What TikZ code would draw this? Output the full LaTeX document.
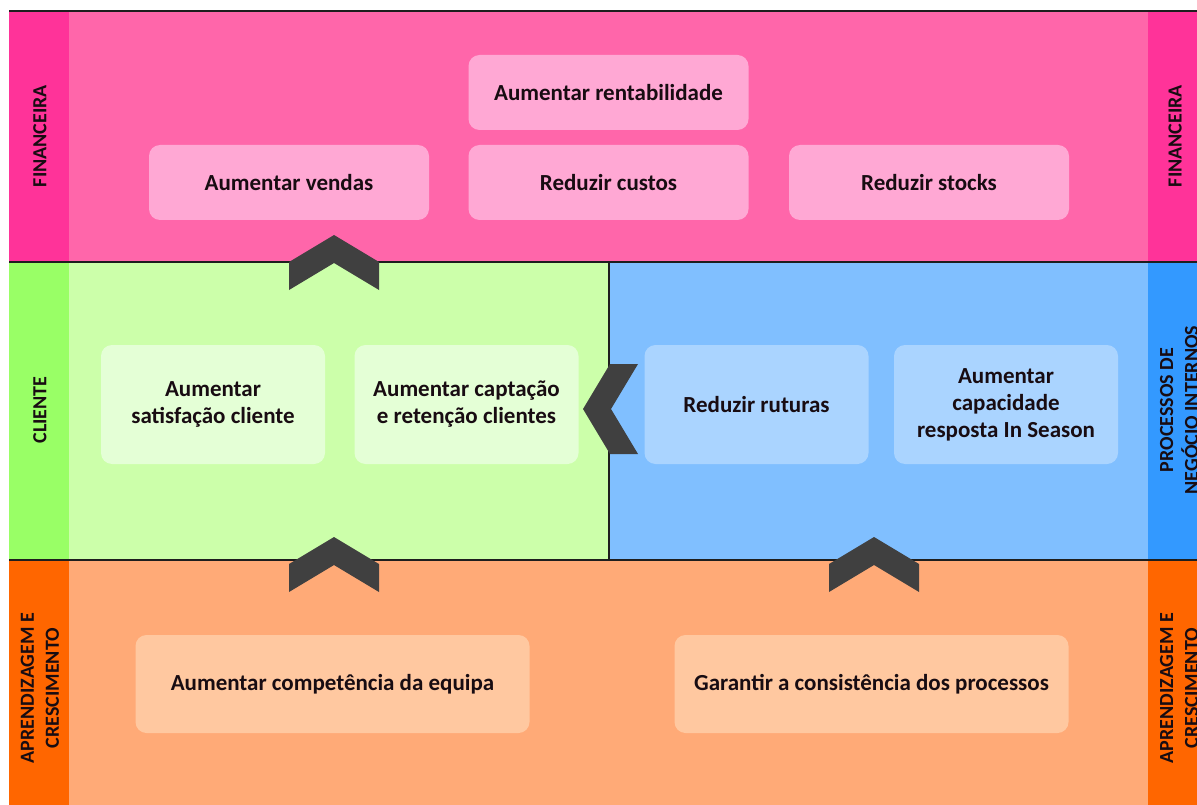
\documentclass[tikz,border=0pt]{standalone}
\usepackage{fontspec}
\setmainfont{Carlito}
\begin{document}
\begin{tikzpicture}[x=1pt,y=-1pt,
  every node/.style={font=\bfseries, text=txt},
  goal/.style={fill=#1, rounded corners=11pt, inner sep=0pt, align=center,
    font=\fontsize{23}{27}\selectfont\bfseries},
  topgoal/.style={goal=pinkbox, minimum width=280pt, minimum height=75pt},
  midgoal/.style={goal=#1, minimum width=224pt, minimum height=119pt},
  lowgoal/.style={goal=orangebox, minimum width=394pt, minimum height=98pt},
  sidelabel/.style={rotate=90, align=center, inner sep=0pt,
    font=\fontsize{20}{25}\selectfont\bfseries},
  rule/.style={draw=rulec, line width=1.4pt},
  chevron/.style={fill=chevc, draw=none}
]
\definecolor{txt}{HTML}{180C12}
\definecolor{rulec}{HTML}{1E1E1E}
\definecolor{chevc}{HTML}{404040}
\definecolor{pinkstrip}{HTML}{FF3399}
\definecolor{pinkband}{HTML}{FF66AA}
\definecolor{pinkbox}{HTML}{FFA8D4}
\definecolor{greenstrip}{HTML}{99FF66}
\definecolor{greenband}{HTML}{CCFFAA}
\definecolor{greenbox}{HTML}{E4FFD6}
\definecolor{bluestrip}{HTML}{3399FF}
\definecolor{blueband}{HTML}{80BFFF}
\definecolor{bluebox}{HTML}{AAD4FF}
\definecolor{orangestrip}{HTML}{FF6600}
\definecolor{orangeband}{HTML}{FFAA77}
\definecolor{orangebox}{HTML}{FFC8A0}

\useasboundingbox (0,0) rectangle (1197,805);
\clip (0,0) rectangle (1197,805);
\fill[white] (0,0) rectangle (1197,805);

% perspective bands
\fill[pinkband]   (9,11)  rectangle (1148,262);
\fill[greenband]  (69,262) rectangle (609,560);
\fill[blueband]   (609,262) rectangle (1148,560);
\fill[orangeband] (9,560) rectangle (1148,805);

% side strips
\fill[pinkstrip]   (9,11)   rectangle (69,262);
\fill[greenstrip]  (9,262)  rectangle (69,560);
\fill[orangestrip] (9,560)  rectangle (69,805);
\fill[pinkstrip]   (1148,11)  rectangle (1210,262);
\fill[bluestrip]   (1148,262) rectangle (1210,560);
\fill[orangestrip] (1148,560) rectangle (1210,805);

% separating rules
\draw[rule] (9,11) -- (1210,11);
\draw[rule] (9,262) -- (1210,262);
\draw[rule] (9,560) -- (1210,560);
\draw[rule] (609,262) -- (609,560);

% side labels
\node[sidelabel] (finL) at (40,136) {FINANCEIRA};
\node[sidelabel] (cliL) at (40,410) {CLIENTE};
\node[sidelabel] (aprL) at (40,688) {APRENDIZAGEM E\\CRESCIMENTO};
\node[sidelabel] (finR) at (1175,136) {FINANCEIRA};
\node[sidelabel] (proR) at (1179,410) {PROCESSOS DE\\NEGÓCIO INTERNOS};
\node[sidelabel] (aprR) at (1179,688) {APRENDIZAGEM E\\CRESCIMENTO};

% financial objectives
\node[topgoal] (rent)   at (608.5,92.5) {Aumentar rentabilidade};
\node[topgoal] (vendas) at (289,182.5) {Aumentar vendas};
\node[topgoal] (custos) at (608.5,182.5) {Reduzir custos};
\node[topgoal] (stocks) at (929,182.5) {Reduzir stocks};

% customer objectives
\node[midgoal=greenbox] (satisf) at (213,404.5) {Aumentar\\satisfação cliente};
\node[midgoal=greenbox] (capt)   at (466.5,404.5) {Aumentar captação\\e retenção clientes};

% internal process objectives
\node[midgoal=bluebox] (rutur)  at (756.5,404.5) {Reduzir ruturas};
\node[midgoal=bluebox] (season) at (1006,404.5) {Aumentar\\capacidade\\resposta In Season};

% learning and growth objectives
\node[lowgoal] (compet)  at (332.5,684) {Aumentar competência da equipa};
\node[lowgoal] (consist) at (871.5,684) {Garantir a consistência dos processos};

% chevrons between perspectives
\coordinate (up1) at (334,235);
\coordinate (up2) at (334,537);
\coordinate (up3) at (874,537);
\coordinate (lf1) at (583,409);
\foreach \c in {up1,up2,up3}{
  \fill[chevron] (\c) ++(-45,27) -- (\c) -- ++(45,27) -- ++(0,28)
     -- ++(-45,-27) -- ++(-45,27) -- cycle;
}
\fill[chevron] (lf1) -- ++(27,-45) -- ++(28,0) -- ++(-27,45)
   -- ++(27,45) -- ++(-28,0) -- cycle;
\end{tikzpicture}
\end{document}
